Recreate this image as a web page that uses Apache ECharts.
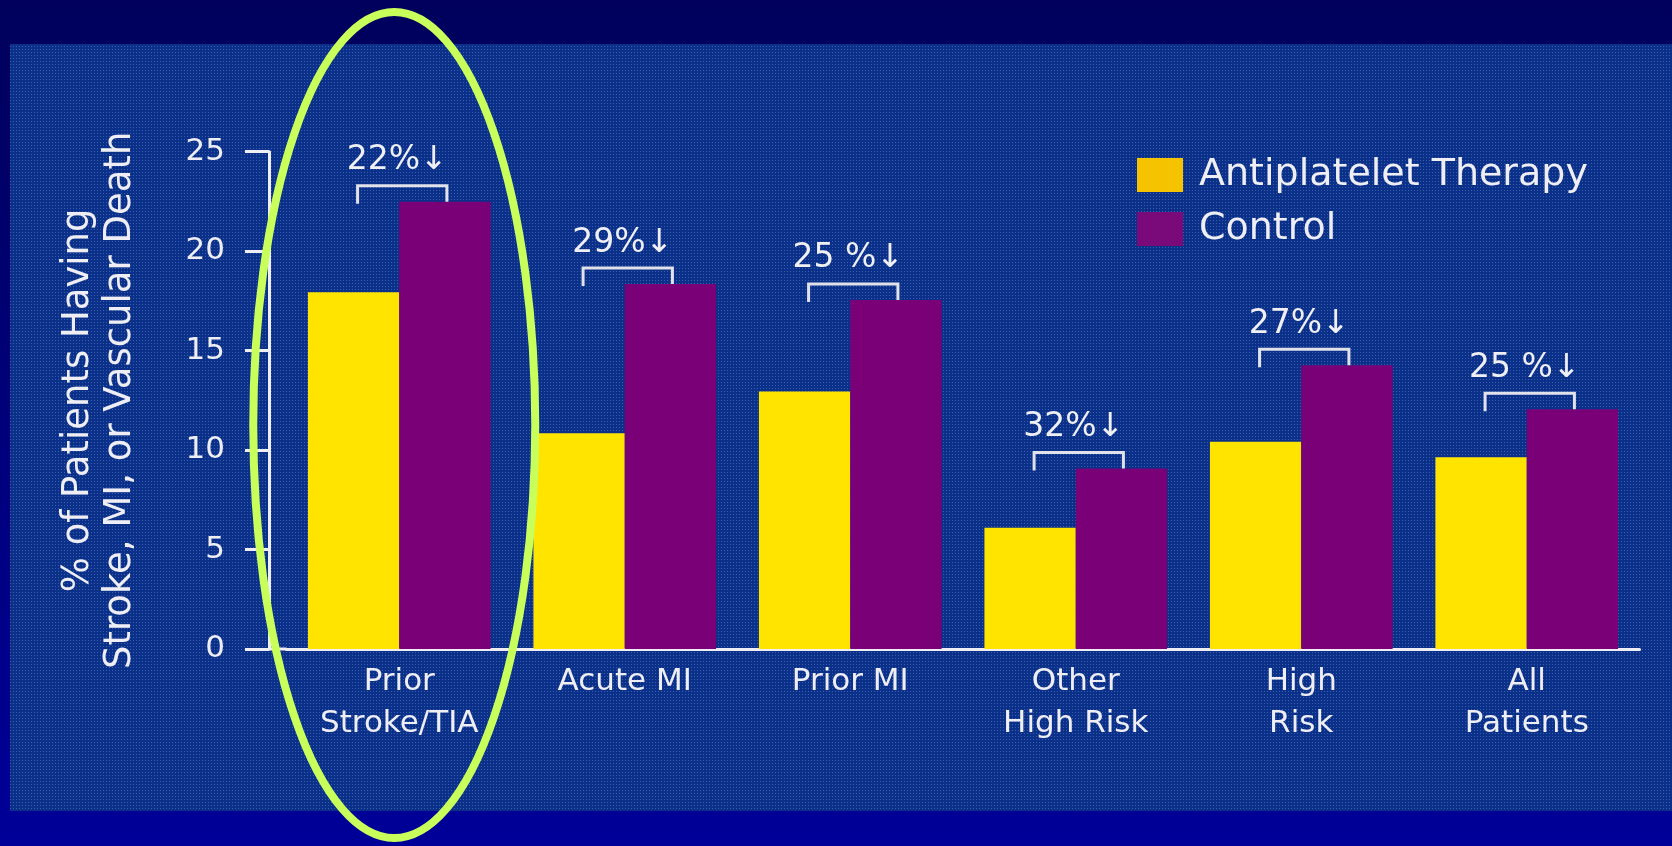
<!DOCTYPE html>
<html>
<head>
<meta charset="utf-8">
<script src="https://cdn.jsdelivr.net/npm/echarts@6/dist/echarts.min.js"></script>
<style>
html,body{margin:0;padding:0;background:#000070;}
#chart{width:1672px;height:846px;}
</style>
</head>
<body>
<div id="chart"></div>
<script>
// ---- data ----
const categories = ['Prior\nStroke/TIA', 'Acute MI', 'Prior MI', 'Other\nHigh Risk', 'High\nRisk', 'All\nPatients'];
const antiplatelet = [17.93, 10.84, 12.94, 6.10, 10.42, 9.64];
const control = [22.49, 18.35, 17.55, 9.08, 14.26, 12.05];
const reductionLabels = ['22%↓', '29%↓', '25 %↓', '32%↓', '27%↓', '25 %↓'];
const seriesNames = ['Antiplatelet Therapy', 'Control'];
const yMin = 0, yMax = 25, yInterval = 5;
const yTitle = '% of Patients Having\nStroke, MI, or Vascular Death';

// ---- styles ----
const FONT = '"DejaVu Sans", "Liberation Sans", Arial, sans-serif';
const WHITE = '#eeeef4';
const YELLOW = '#FFE400';
const PURPLE = '#7A0078';

// dotted panel texture
const pc = document.createElement('canvas');
pc.width = 3; pc.height = 3;
const g = pc.getContext('2d');
g.fillStyle = '#0a3089'; g.fillRect(0, 0, 3, 3);
g.fillStyle = '#3a5ea8'; g.fillRect(1, 1, 1, 1);

const chart = echarts.init(document.getElementById('chart'), null, {renderer: 'canvas'});

const BAR_GAP_RATIO = 0.19;

chart.setOption({
  backgroundColor: {
    type: 'linear', x: 0, y: 0, x2: 0, y2: 1,
    colorStops: [{offset: 0, color: '#00005c'}, {offset: 1, color: '#000098'}]
  },
  textStyle: {fontFamily: FONT},
  animation: false,
  graphic: {
    elements: [{
      type: 'rect', silent: true, z: -100,
      shape: {x: 10, y: 44, width: 1662, height: 767},
      style: {fill: {image: pc, repeat: 'repeat'}}
    }]
  },
  grid: {left: 286.5, right: 32.5, top: 151.7, bottom: 197},
  legend: {
    orient: 'vertical',
    left: 1132, top: 150,
    itemWidth: 46, itemHeight: 34, itemGap: 14,
    icon: 'rect',
    data: [
      {name: seriesNames[0], itemStyle: {color: '#F5C300'}},
      {name: seriesNames[1], itemStyle: {color: '#7A0A7A'}}
    ],
    textStyle: {color: WHITE, fontSize: 38, lineHeight: 40, padding: [0, 0, 0, 11], fontFamily: FONT}
  },
  xAxis: {
    type: 'category',
    data: categories,
    axisLine: {show: true, lineStyle: {color: WHITE, width: 3}},
    axisTick: {show: false},
    axisLabel: {interval: 0, color: WHITE, fontSize: 31, lineHeight: 42, margin: 12, fontFamily: FONT}
  },
  yAxis: {
    type: 'value',
    min: yMin, max: yMax, interval: yInterval,
    offset: 17.5,
    name: yTitle,
    nameLocation: 'middle',
    nameGap: 128,
    nameTextStyle: {color: WHITE, fontSize: 37, lineHeight: 42, fontFamily: FONT},
    axisLine: {show: true, lineStyle: {color: WHITE, width: 3}},
    axisTick: {show: true, length: 24, inside: false, lineStyle: {color: WHITE, width: 3}},
    axisLabel: {color: WHITE, fontSize: 31, margin: 44, fontFamily: FONT},
    splitLine: {show: false}
  },
  series: [
    {
      name: seriesNames[0], type: 'bar', data: antiplatelet,
      barGap: '0%', barCategoryGap: (BAR_GAP_RATIO * 100) + '%',
      itemStyle: {color: YELLOW}
    },
    {
      name: seriesNames[1], type: 'bar', data: control,
      barGap: '0%', barCategoryGap: (BAR_GAP_RATIO * 100) + '%',
      itemStyle: {color: PURPLE}
    },
    {
      type: 'custom',
      clip: false,
      z: 5,
      silent: true,
      data: control.map((v, i) => [i, v]),
      renderItem: function (params, api) {
        const i = params.dataIndex;
        const c = api.coord([api.value(0), api.value(1)]);
        const band = api.size([1, 0])[0];
        const bw = band * (1 - BAR_GAP_RATIO) / 2;
        const cx = c[0], top = c[1];
        const lx = cx - bw / 2 + 4, rx = cx + bw / 2 + 2;
        const by = top - 16;
        const children = [
          {
            type: 'polyline',
            shape: {points: [[lx, by + 18], [lx, by], [rx, by], [rx, top]]},
            style: {stroke: '#e2e2ea', lineWidth: 3, fill: 'none'}
          },
          {
            type: 'text',
            x: cx - 2, y: by - 25,
            style: {
              text: reductionLabels[i], fill: '#f0f0f4',
              font: '33px ' + FONT, align: 'center', verticalAlign: 'middle'
            }
          }
        ];
        if (i === 0) {
          const cs = params.coordSys;
          const y0 = cs.y + cs.height;
          children.push({
            type: 'line',
            shape: {x1: cs.x - 18, y1: y0, x2: cs.x, y2: y0},
            style: {stroke: WHITE, lineWidth: 3}
          });
          const ex = cx - 5, ey = 425, erx = 141, ery = 413;
          children.push({
            type: 'path',
            shape: {pathData: 'M ' + (ex - erx) + ' ' + ey + ' A ' + erx + ' ' + ery + ' 0 1 0 ' + (ex + erx) + ' ' + ey +
              ' A ' + erx + ' ' + ery + ' 0 1 0 ' + (ex - erx) + ' ' + ey + ' Z'},
            style: {fill: 'none', stroke: '#C8FF5A', lineWidth: 8}
          });
        }
        return {type: 'group', children: children};
      }
    }
  ]
});
</script>
</body>
</html>
